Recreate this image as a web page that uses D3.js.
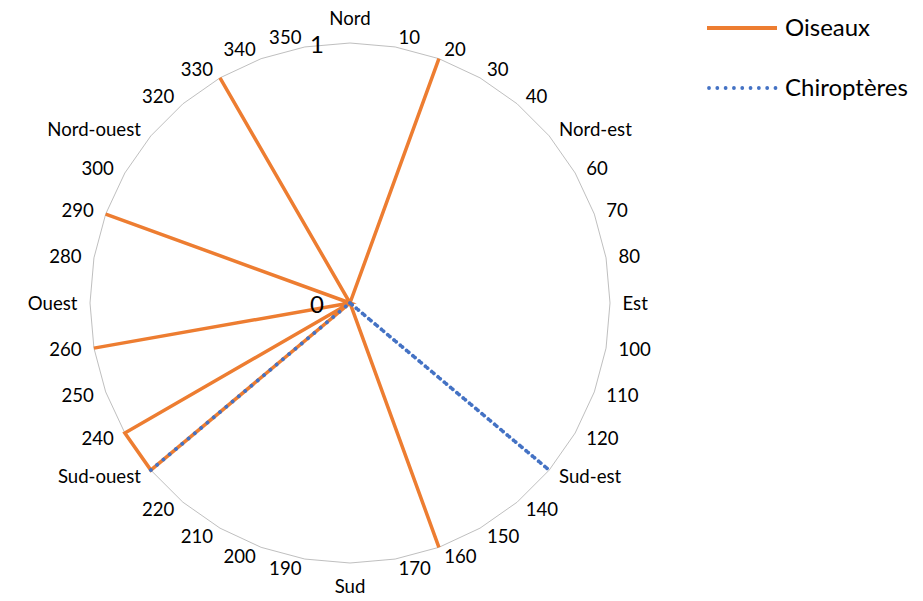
<!DOCTYPE html>
<html>
<head>
<meta charset="utf-8">
<script src="https://cdn.jsdelivr.net/npm/d3@7"></script>
<style>
  html, body { margin: 0; padding: 0; background: #ffffff; }
  svg { display: block; font-family: Lato, "Open Sans", sans-serif; }
</style>
</head>
<body>
<svg id="chart" width="923" height="601"></svg>
<script>
// Direction categories, every 10 degrees clockwise from north
const categories = ["Nord", "10", "20", "30", "40", "Nord-est", "60", "70", "80", "Est",
  "100", "110", "120", "Sud-est", "140", "150", "160", "170", "Sud",
  "190", "200", "210", "220", "Sud-ouest", "240", "250", "260", "Ouest",
  "280", "290", "300", "Nord-ouest", "320", "330", "340", "350"];

// Series values, one per direction
const oiseaux = [0, 0, 1, 0, 0, 0, 0, 0, 0, 0,
  0, 0, 0, 0, 0, 0, 1, 0, 0,
  0, 0, 0, 0, 1, 1, 0, 1, 0,
  0, 1, 0, 0, 0, 1, 0, 0];
const chiropteres = [0, 0, 0, 0, 0, 0, 0, 0, 0, 0,
  0, 0, 0, 1, 0, 0, 0, 0, 0,
  0, 0, 0, 0, 1, 0, 0, 0, 0,
  0, 0, 0, 0, 0, 0, 0, 0];

const seriesNames = ["Oiseaux", "Chiroptères"];
const radialTicks = [0, 1];

const svg = d3.select("#chart");
const cx = 350, cy = 303, R = 260;
const colors = { Oiseaux: "#ED7D31", "Chiroptères": "#4472C4" };
const textColor = "#000";

const rScale = d3.scaleLinear().domain([0, 1]).range([0, R]);
const aScale = d3.scaleLinear().domain([0, categories.length]).range([0, 2 * Math.PI]);

const g = svg.append("g").attr("transform", `translate(${cx},${cy})`);

// Outer gridline polygon at value 1
const gridLine = d3.lineRadial()
  .angle((d, i) => aScale(i))
  .radius(() => rScale(1))
  .curve(d3.curveLinearClosed);
g.append("path")
  .attr("d", gridLine(categories))
  .attr("fill", "none")
  .attr("stroke", "#bfbfbf")
  .attr("stroke-width", 1);

// Series lines
const seriesLine = d3.lineRadial()
  .angle((d, i) => aScale(i))
  .radius(d => rScale(d))
  .curve(d3.curveLinearClosed);

g.append("path")
  .attr("d", seriesLine(oiseaux))
  .attr("fill", "none")
  .attr("stroke", colors.Oiseaux)
  .attr("stroke-width", 3.5)
  .attr("stroke-linejoin", "miter");

g.append("path")
  .attr("d", seriesLine(chiropteres))
  .attr("fill", "none")
  .attr("stroke", colors["Chiroptères"])
  .attr("stroke-width", 3.8)
  .attr("stroke-linecap", "round")
  .attr("stroke-dasharray", "0.01 8.2");

// Category labels around the polygon
categories.forEach((c, i) => {
  const a = aScale(i);
  const s = Math.sin(a), co = Math.cos(a);
  const vx = rScale(1) * s, vy = -rScale(1) * co;
  let x, y, anchor;
  if (Math.abs(s) < 0.01) {
    anchor = "middle";
    x = vx;
    y = vy - 24 * co - 1;
  } else {
    anchor = s > 0 ? "start" : "end";
    x = vx + Math.sign(s) * (1.5 + 11 * Math.abs(s));
    y = vy - 10 * co;
  }
  g.append("text")
    .attr("x", x).attr("y", y).attr("dy", "0.35em")
    .attr("text-anchor", anchor)
    .attr("font-size", 18.6)
    .attr("fill", textColor)
    .text(c);
});

// Radial axis tick labels
radialTicks.forEach(t => {
  g.append("text")
    .attr("x", -26).attr("y", -rScale(t) + 2).attr("dy", "0.35em")
    .attr("text-anchor", "end")
    .attr("font-size", 24)
    .attr("fill", textColor)
    .text(t);
});

// Legend
const legend = svg.append("g").attr("transform", "translate(707,28)");
seriesNames.forEach((name, i) => {
  const row = legend.append("g").attr("transform", `translate(0,${i * 60})`);
  const ln = row.append("line")
    .attr("x1", 0).attr("x2", 70).attr("y1", 0).attr("y2", 0)
    .attr("stroke", colors[name]);
  if (i === 0) {
    ln.attr("stroke-width", 4);
  } else {
    ln.attr("x1", 2).attr("stroke-width", 3.8)
      .attr("stroke-linecap", "round").attr("stroke-dasharray", "0.01 8.3");
  }
  row.append("text")
    .attr("x", 78).attr("y", 0).attr("dy", "0.35em")
    .attr("font-size", 24)
    .attr("fill", textColor)
    .text(name);
});
</script>
</body>
</html>
